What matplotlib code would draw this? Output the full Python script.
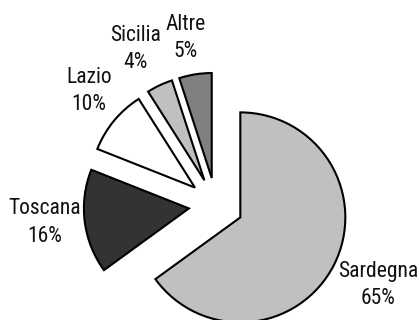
import matplotlib
matplotlib.use("Agg")
import matplotlib.pyplot as plt

# Regional shares
regions = ["Sardegna", "Toscana", "Lazio", "Sicilia", "Altre"]
shares = [65, 16, 10, 4, 5]
colors = ["#C0C0C0", "#333333", "#FFFFFF", "#C0C0C0", "#808080"]

# Label anchor points (data units, pie radius = 1)
label_xy = [(1.543, -0.762), (-1.629, -0.167), (-1.210, 1.086),
            (-0.762, 1.486), (-0.286, 1.590)]

plt.rcParams["font.family"] = ["Roboto Condensed", "Liberation Sans", "DejaVu Sans"]

W, H = 417, 320
R = 105.0           # pie radius in pixels
cx, cy = 216, 205   # pie centre in pixels (from top-left)

fig = plt.figure(figsize=(W / 100, H / 100), dpi=100)
ax = fig.add_axes([0, 0, 1, 1])

ax.pie(shares, colors=colors, startangle=90, counterclock=False,
       explode=[0.26] * len(shares), radius=1.0,
       wedgeprops=dict(edgecolor="black", linewidth=1.5))

ax.set_xlim(-cx / R, (W - cx) / R)
ax.set_ylim(-(H - cy) / R, cy / R)
ax.set_aspect("equal")
ax.axis("off")

for name, val, (x, y) in zip(regions, shares, label_xy):
    ax.text(x, y, f"{name}\n{val}%", ha="center", va="center",
            fontsize=15.5, linespacing=1.4, color="#111111")

fig.savefig("out.png", dpi=100)
